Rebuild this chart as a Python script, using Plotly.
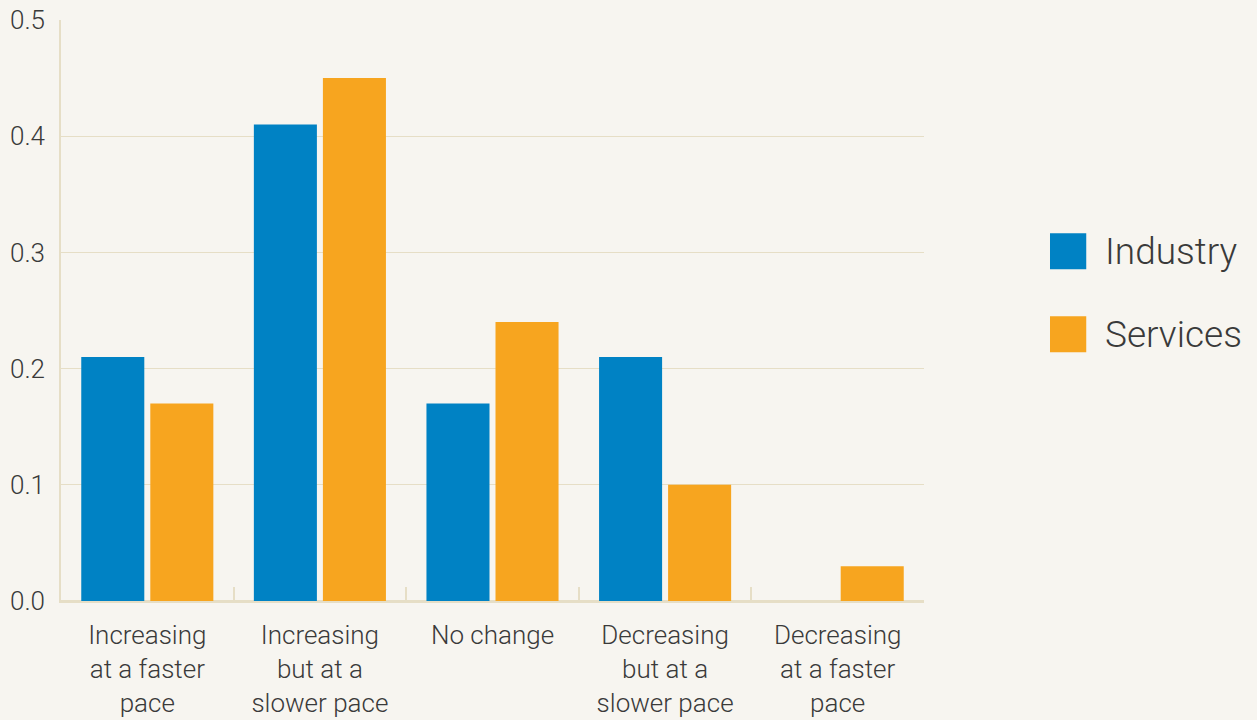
import plotly.graph_objects as go

categories = [
    "Increasing<br>at a faster<br>pace",
    "Increasing<br>but at a<br>slower pace",
    "No change",
    "Decreasing<br>but at a<br>slower pace",
    "Decreasing<br>at a faster<br>pace",
]
industry = [0.21, 0.41, 0.17, 0.21, 0.0]
services = [0.17, 0.45, 0.24, 0.10, 0.03]

series_names = ["Industry", "Services"]
series_colors = ["#0082c4", "#f7a51f"]

bg = "#f7f5f0"
grid = "#e6dec6"
text_color = "#3a3a3a"
font_family = "Roboto, DejaVu Sans, sans-serif"

fig = go.Figure()
for name, vals, col in zip(series_names, [industry, services], series_colors):
    fig.add_trace(go.Bar(x=categories, y=vals, name=name, marker_color=col,
                         marker_line_width=0, showlegend=False))

# legend drawn as large swatches with labels
legend_y = [0.602, 0.459]
for name, col, yc in zip(series_names, series_colors, legend_y):
    fig.add_shape(type="rect", xref="paper", yref="paper",
                  x0=1.146, x1=1.188, y0=yc - 0.031, y1=yc + 0.031,
                  fillcolor=col, line_width=0)
    fig.add_annotation(xref="paper", yref="paper", x=1.207, y=yc,
                       text=name, showarrow=False, xanchor="left", yanchor="middle",
                       font=dict(size=37, color=text_color, family=font_family, weight=300))

fig.update_layout(
    width=1257, height=720,
    margin=dict(l=61, r=333, t=20, b=119),
    paper_bgcolor=bg, plot_bgcolor=bg,
    barmode="group", bargap=0.2, bargroupgap=0.087,
    font=dict(family=font_family, size=26, color=text_color, weight=300),
    showlegend=False,
)
fig.update_xaxes(
    automargin=False,
    showline=True, linecolor=grid, linewidth=2,
    ticks="inside", tickson="boundaries", ticklen=14, tickcolor=grid, tickwidth=1.5,
    showgrid=False, ticklabelstandoff=10,
    tickfont=dict(size=26, color=text_color, weight=300),
)
fig.update_yaxes(
    automargin=False,
    range=[0, 0.5], dtick=0.1, tickformat=".1f",
    showline=True, linecolor=grid, linewidth=1.5,
    showgrid=True, gridcolor=grid, gridwidth=1,
    zeroline=True, zerolinecolor=grid, zerolinewidth=2,
    ticks="", ticklabelstandoff=9,
    tickfont=dict(size=26, color=text_color, weight=300),
)

fig.write_html("out.html")
